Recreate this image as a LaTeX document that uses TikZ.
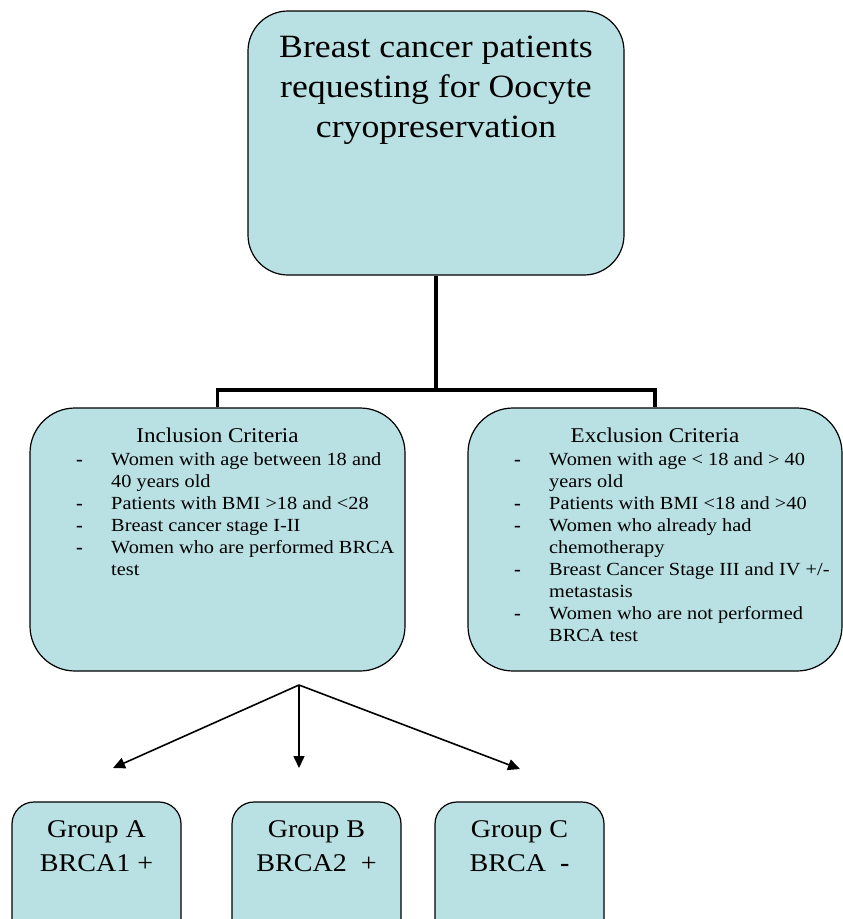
\documentclass[tikz,border=0pt]{standalone}
\usepackage{fontspec}
\setmainfont[FakeStretch=1.1]{Liberation Serif}
\usetikzlibrary{positioning,arrows.meta}
\definecolor{boxblue}{RGB}{185,224,227}

\begin{document}
\begin{tikzpicture}[x=1pt, y=-1pt,
    box/.style={draw, line width=1.2pt, fill=boxblue, rounded corners=40pt},
    grp/.style={draw, line width=1.2pt, fill=boxblue, rounded corners=22pt,
                minimum width=169pt, minimum height=150pt},
    crit/.style={font=\fontsize{18.5}{22}\selectfont, inner sep=0pt},
    arr/.style={line width=1.6pt, -{Triangle[length=12pt,width=11pt]}}]
    \useasboundingbox (0,0) rectangle (843,919);
    \clip (0,0) rectangle (843,919);

    % boxes
    \node [box, minimum width=376pt, minimum height=264pt] (top) at (436,143) {};
    \node [box, rounded corners=45pt, minimum width=375pt, minimum height=263pt] (inc) at (217.5,539.5) {};
    \node [box, rounded corners=45pt, minimum width=374pt, minimum height=263pt] (exc) at (655,539.5) {};
    \node [grp] (ga) at (96.5,877) {};
    \node [grp] (gb) at (316.5,877) {};
    \node [grp] (gc) at (519.5,877) {};

    % texts
    \node [below=25pt of top.north, align=center, inner sep=0pt,
           font=\fontsize{32.5}{40}\selectfont] (toptxt)
        {Breast cancer patients\\requesting for Oocyte\\cryopreservation};
    \node [below=20pt of inc.north, inner sep=0pt,
           font=\fontsize{21}{22}\selectfont] (inct) {Inclusion Criteria};
    \node [below=20pt of exc.north, inner sep=0pt,
           font=\fontsize{21}{22}\selectfont] (exct) {Exclusion Criteria};
    \node [crit, anchor=north west] (incl) at (76,450) {%
        \begin{tabular}{@{}p{35pt}@{}l@{}}
        \textbf{-} & Women with age between 18 and\\
          & 40 years old\\
        \textbf{-} & Patients with BMI >18 and <28\\
        \textbf{-} & Breast cancer stage I-II\\
        \textbf{-} & Women who are performed BRCA\\
          & test
        \end{tabular}};
    \node [crit, anchor=north west] (excl) at (514,450) {%
        \begin{tabular}{@{}p{35pt}@{}l@{}}
        \textbf{-} & Women with age < 18 and > 40\\
          & years old\\
        \textbf{-} & Patients with BMI <18 and >40\\
        \textbf{-} & Women who already had\\
          & chemotherapy\\
        \textbf{-} & Breast Cancer Stage III and IV +/-\\
          & metastasis\\
        \textbf{-} & Women who are not performed\\
          & BRCA test
        \end{tabular}};
    \node [below=19pt of ga.north, align=center, inner sep=0pt,
           font=\fontsize{25.5}{34}\selectfont] (gat) {Group A\\BRCA1 +};
    \node [below=19pt of gb.north, align=center, inner sep=0pt,
           font=\fontsize{25.5}{34}\selectfont] (gbt) {Group B\\BRCA2 \ +};
    \node [below=19pt of gc.north, align=center, inner sep=0pt,
           font=\fontsize{25.5}{34}\selectfont] (gct) {Group C\\BRCA \ \textbf{-}};

    % connectors
    \coordinate (split) at (436,390);
    \draw [line width=3.5pt] (top.south) -- (split);
    \draw [line width=3.5pt] (inc.north) |- (split) -| (exc.north);

    \coordinate (fork) at (299,685);
    \coordinate (ea) at (113,768);
    \coordinate (eb) at (299,768);
    \coordinate (ec) at (520,769);
    \draw [arr] (fork) -- (ea);
    \draw [arr] (fork) -- (eb);
    \draw [arr] (fork) -- (ec);
\end{tikzpicture}
\end{document}
